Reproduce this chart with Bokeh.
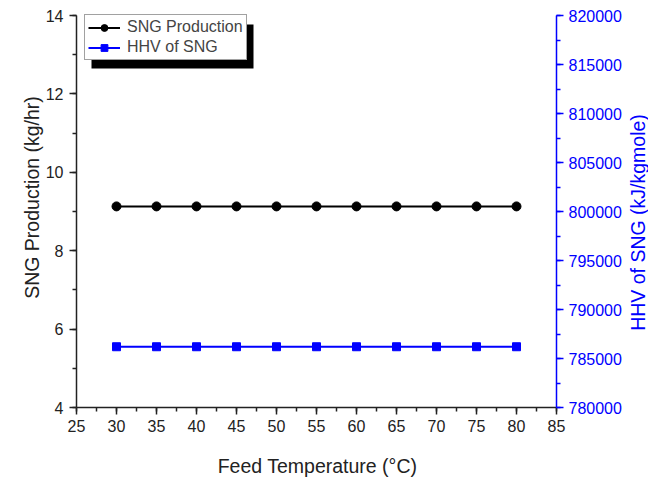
import math
from bokeh.plotting import figure
from bokeh.models import (Range1d, LinearAxis, SingleIntervalTicker, BasicTickFormatter,
                          Legend, LegendItem, BoxAnnotation, Label)
from bokeh.embed import file_html
from bokeh.resources import INLINE

# ---- data ----
feed_temp = [30, 35, 40, 45, 50, 55, 60, 65, 70, 75, 80]
sng_production = [9.13, 9.13, 9.13, 9.13, 9.13, 9.13, 9.13, 9.13, 9.13, 9.13, 9.13]
hhv_sng = [786200, 786200, 786200, 786200, 786200, 786200, 786200, 786200, 786200, 786200, 786200]

x_limits = (25, 85)
y_limits = (4, 14)
hhv_limits = (780000, 820000)

FONT = "Liberation Sans"
BLUE = "#0000ff"
DARK = "#222222"

# canvas and where the axes box sits on it (pixels)
W, H = 648, 480
BOX_L, BOX_R, BOX_T, BOX_B = 76, 556, 15, 407

def extend(lim, a0, a1, total, flip=False):
    lo, hi = lim
    scale = (hi - lo) / (a1 - a0)
    if flip:
        return Range1d(lo - (total - a1) * scale, hi + a0 * scale)
    return Range1d(lo - a0 * scale, hi + (total - a1) * scale)

p = figure(width=W, height=H, output_backend="svg", toolbar_location=None, title=None,
           x_range=extend(x_limits, BOX_L, BOX_R, W),
           y_range=extend(y_limits, BOX_T, BOX_B, H, flip=True),
           min_border=0, x_axis_type=None, y_axis_type=None)
p.outline_line_color = None
p.background_fill_color = "white"
p.border_fill_color = "white"
p.extra_y_ranges = {"hhv": extend(hhv_limits, BOX_T, BOX_B, H, flip=True)}

def style(ax, color):
    ax.axis_line_color = color
    ax.axis_line_width = 1.5
    ax.major_tick_line_color = color
    ax.minor_tick_line_color = color
    ax.major_tick_line_width = 1.5
    ax.minor_tick_line_width = 1.5
    ax.major_tick_out = 7
    ax.major_tick_in = 0
    ax.minor_tick_out = 4
    ax.minor_tick_in = 0
    ax.major_label_text_color = color
    ax.major_label_text_font = FONT
    ax.major_label_text_font_size = "16px"

xaxis = LinearAxis(ticker=SingleIntervalTicker(interval=5, num_minor_ticks=2),
                   bounds=x_limits, fixed_location=y_limits[0])
style(xaxis, DARK)
xaxis.major_label_standoff = 5
p.add_layout(xaxis, "below")

yaxis = LinearAxis(ticker=SingleIntervalTicker(interval=2, num_minor_ticks=2),
                   bounds=y_limits, fixed_location=x_limits[0])
style(yaxis, DARK)
yaxis.major_label_standoff = 6
p.add_layout(yaxis, "left")

raxis = LinearAxis(y_range_name="hhv",
                   ticker=SingleIntervalTicker(interval=5000, num_minor_ticks=2),
                   formatter=BasicTickFormatter(use_scientific=False),
                   bounds=hhv_limits, fixed_location=x_limits[1])
style(raxis, BLUE)
raxis.major_label_standoff = 5
p.add_layout(raxis, "right")

# axis titles (screen units measured from the bottom-left of the canvas)
title_kw = dict(x_units="screen", y_units="screen", text_align="center",
                text_baseline="middle", text_font=FONT, text_font_size="19.5px")
p.add_layout(Label(x=317, y=H - 465, text="Feed Temperature (\u00b0C)",
                   text_color=DARK, **title_kw))
p.add_layout(Label(x=31, y=H - 197, text="SNG Production (kg/hr)", angle=math.pi / 2,
                   text_color=DARK, **title_kw))
p.add_layout(Label(x=637, y=H - 222, text="HHV of SNG (kJ/kgmole)", angle=math.pi / 2,
                   text_color=BLUE, **title_kw))

l1 = p.line(feed_temp, sng_production, line_color="black", line_width=2)
s1 = p.scatter(feed_temp, sng_production, marker="circle", size=9,
               fill_color="black", line_color="black")
l2 = p.line(feed_temp, hhv_sng, y_range_name="hhv", line_color=BLUE, line_width=2)
s2 = p.scatter(feed_temp, hhv_sng, y_range_name="hhv", marker="square", size=8,
               fill_color=BLUE, line_color=BLUE)

# legend drop shadow
shadow = BoxAnnotation(left=91, right=253, bottom=H - 68, top=H - 24,
                       left_units="screen", right_units="screen",
                       top_units="screen", bottom_units="screen",
                       fill_color="black", fill_alpha=1.0, line_color=None, level="annotation")
p.add_layout(shadow)

legend = Legend(items=[LegendItem(label="SNG Production", renderers=[l1, s1]),
                       LegendItem(label="HHV of SNG", renderers=[l2, s2])],
                location=(84, H - 60))
legend.label_text_font = FONT
legend.label_text_font_size = "16px"
legend.label_standoff = 7
legend.glyph_width = 32
legend.glyph_height = 17
legend.label_height = 17
legend.spacing = 2
legend.padding = 3
legend.margin = 0
legend.border_line_color = "#444444"
legend.border_line_width = 1
legend.background_fill_color = "white"
legend.background_fill_alpha = 1.0
p.add_layout(legend, "center")

open("out.html", "w").write(file_html(p, INLINE))
